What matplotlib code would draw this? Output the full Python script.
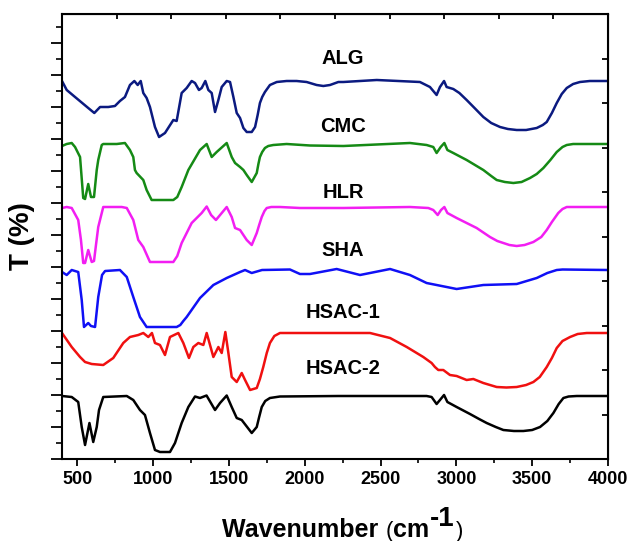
import matplotlib
matplotlib.use('Agg')
import matplotlib.pyplot as plt
import numpy as np

plt.rcParams['font.family'] = ['Liberation Sans', 'DejaVu Sans']

# ---- data (wavenumber, stacked transmittance in axis units) ----
alg_x = [400, 431, 486, 573, 613, 651, 705, 749, 782, 815, 848, 877, 899, 919, 936, 958, 980, 1013, 1040,
         1079, 1134, 1156, 1189, 1222, 1255, 1277, 1303, 1321, 1345, 1365, 1387, 1409, 1431, 1453, 1486,
         1508, 1530, 1552, 1574, 1596, 1618, 1651, 1673, 1690, 1705, 1720, 1738, 1771, 1816, 1881, 1947,
         2013, 2079, 2123, 2167, 2222, 2255, 2475, 2760, 2826, 2870, 2892, 2919, 2936, 2980, 3020, 3068,
         3120, 3178, 3230, 3288, 3340, 3398, 3460, 3530, 3570, 3596, 3630, 3662, 3695, 3728, 3770, 3815,
         3880, 4000]
alg_y = [378, 369, 362, 351, 346, 352, 352, 353, 358, 362, 374, 378, 374, 378, 366, 361, 352, 332, 322,
         326, 339, 338, 366, 371, 378, 376, 369, 371, 378, 369, 366, 347, 359, 372, 378,
         377, 362, 346, 341, 331, 327, 327, 332, 344, 356, 362, 367, 374, 377, 378, 378,
         377, 374, 373, 374, 377, 377, 379, 377, 372, 364, 372, 378, 372, 370, 366, 359,
         351, 342, 336, 332, 330, 329, 329, 331, 334, 337, 346, 356, 365, 371, 375, 377,
         378, 378]

cmc_x = [400, 431, 464, 486, 519, 540, 552, 573, 591, 611, 629, 639, 662, 672, 761, 815, 848, 870, 881,
         892, 936, 958, 991, 1134, 1160, 1189, 1233, 1310, 1354, 1387, 1420, 1486, 1519, 1541, 1574, 1596,
         1618, 1651, 1684, 1695, 1705, 1720, 1738, 1760, 1793, 1881, 2035, 2255, 2694, 2804, 2848, 2870,
         2897, 2921, 2941, 2980, 3068, 3178, 3230, 3266, 3320, 3376, 3430, 3486, 3530, 3574, 3620, 3662,
         3700, 3728, 3770, 4000]
cmc_y = [313, 315, 316, 312, 302, 261, 260, 275, 262, 262, 289, 299, 314, 315, 315, 316, 309, 302, 289,
         286, 279, 269, 259, 259, 262, 272, 289, 309, 315, 302, 307, 316, 302, 296, 292, 289,
         284, 277, 286, 295, 302, 307, 311, 313, 314, 315, 313.5, 313, 316, 314, 312, 306,
         312, 316, 309, 306, 299, 289, 283, 279, 277, 276, 277, 281, 285, 291, 299, 307,
         312, 314, 315, 315]

hlr_x = [400, 431, 464, 507, 525, 540, 552, 573, 596, 611, 624, 639, 672, 794, 827, 870, 903, 936, 980,
         1134, 1160, 1189, 1255, 1321, 1354, 1383, 1415, 1486, 1519, 1541, 1574, 1618, 1651, 1684, 1700,
         1717, 1735, 1750, 1780, 1837, 1969, 2255, 2694, 2815, 2848, 2877, 2899, 2921, 2941, 3002, 3068,
         3134, 3222, 3270, 3310, 3350, 3398, 3450, 3508, 3560, 3596, 3630, 3672, 3700, 3728, 4000]
hlr_y = [251, 252, 251, 239, 219, 196, 196, 209, 197, 198, 214, 232, 252, 252, 251, 239, 219, 212, 197,
         197, 203, 216, 236, 246, 252.5, 244, 239, 252, 242, 231, 229, 219, 214, 226, 234,
         242, 248, 251, 252, 252, 251, 251, 252, 251, 249, 244, 249, 252, 246, 241, 236,
         231, 222, 218, 216, 214, 213, 214, 217, 222, 229, 237, 246, 250, 252, 252]

sha_x = [400, 431, 464, 507, 530, 545, 573, 591, 618, 639, 664, 684, 782, 827, 870, 914, 958, 1156, 1180,
         1200, 1222, 1310, 1398, 1486, 1574, 1607, 1651, 1719, 1903, 1969, 2035, 2211, 2365, 2563, 2694,
         2804, 3002, 3178, 3398, 3530, 3600, 3662, 3700, 4000]
sha_y = [187, 184, 189, 187, 159, 132, 136, 133, 132, 162, 184, 188, 189, 182, 162, 142, 132, 132, 134,
         138, 142, 161, 174, 181, 187, 189, 186, 189, 189.5, 185, 185, 190, 184, 190, 184,
         176, 170, 174, 175, 181, 186, 189, 189.5, 189]

hsac1_x = [400, 464, 519, 552, 596, 672, 738, 804, 848, 903, 936, 969, 993, 1013, 1046, 1079, 1112, 1167,
           1200, 1237, 1266, 1299, 1332, 1354, 1398, 1431, 1453, 1477, 1497, 1519, 1552, 1585, 1607, 1640,
           1684, 1705, 1727, 1750, 1771, 1800, 1837, 1969, 2431, 2563, 2673, 2782, 2837, 2859, 2881, 2914,
           2958, 3002, 3068, 3112, 3178, 3266, 3330, 3398, 3460, 3508, 3550, 3596, 3630, 3662, 3700, 3750,
           3800, 3860, 4000]
hsac1_y = [126, 112, 102, 97, 95, 94, 101, 116, 122, 124, 126, 122, 126, 116, 114, 104, 122, 126,
           116, 101, 112, 116, 114, 126, 102, 112, 106, 127, 106, 82, 77, 86, 79, 69,
           71, 80, 92, 106, 116, 123, 126, 126, 126, 121, 112, 102, 96, 92, 89, 89,
           84, 83, 79, 80, 76, 72, 71.5, 72, 74, 77, 82, 92, 101, 111, 118, 122,
           125, 126, 126]

hsac2_x = [400, 464, 507, 530, 552, 581, 606, 629, 644, 672, 827, 870, 914, 947, 980, 1013, 1046, 1112,
           1145, 1189, 1233, 1277, 1310, 1353, 1409, 1442, 1486, 1519, 1552, 1585, 1651, 1684, 1700, 1717,
           1740, 1771, 1837, 2222, 2804, 2837, 2870, 2892, 2919, 2941, 3002, 3090, 3150, 3200, 3260, 3310,
           3380, 3442, 3500, 3552, 3600, 3640, 3675, 3706, 3740, 3794, 4000]
hsac2_y = [63, 62, 57, 32, 14, 36, 17, 32, 49, 62, 63, 59, 49, 44, 26, 9, 7, 7,
           16, 36, 52, 62.5, 61, 63.5, 49, 56, 63.5, 52, 41, 39, 26, 32, 42, 52,
           58, 61, 62.5, 63, 63, 62, 55, 59, 64, 57, 52, 45, 40, 36, 32, 29,
           28, 28, 29, 32, 38, 46, 55, 61, 62.5, 63, 63]

names = ['ALG', 'CMC', 'HLR', 'SHA', 'HSAC-1', 'HSAC-2']
colors = ['#0b1a80', '#158a15', '#f21ef2', '#1010f5', '#f01010', '#000000']
label_x = 2253
label_y = [400, 332, 267, 209, 146, 90]

xs = [alg_x, cmc_x, hlr_x, sha_x, hsac1_x, hsac2_x]
ys = [alg_y, cmc_y, hlr_y, sha_y, hsac1_y, hsac2_y]

W, H = 629, 541
fig = plt.figure(figsize=(W / 100, H / 100), dpi=100)
ax = fig.add_axes([62 / W, 1 - 459 / H, 546 / W, 445 / H])

for x, y, c in zip(xs, ys, colors):
    ax.plot(x, y, color=c, lw=1.8, solid_joinstyle='round', solid_capstyle='round')

for n, ly in zip(names, label_y):
    ax.text(label_x, ly, n, ha='center', va='center', fontsize=14.5, fontweight='bold')

ax.set_xlim(400, 4000)
ax.set_ylim(0, 445)
ax.set_xticks(np.arange(500, 4001, 500))
ax.set_xticks(np.arange(750, 4000, 500), minor=True)
ax.set_yticks(np.arange(0, 445, 32))
ax.set_yticks(np.arange(16, 445, 32), minor=True)
ax.set_yticklabels([])
for lbl in ax.get_xticklabels():
    lbl.set_fontweight('bold')
ax.tick_params(axis='x', which='major', direction='out', length=5, width=1.3, labelsize=13, pad=4)
ax.tick_params(axis='x', which='minor', direction='out', length=3, width=1.2)
ax.tick_params(axis='y', which='major', direction='out', length=8, width=1.3)
ax.tick_params(axis='y', which='minor', direction='out', length=4.5, width=1.2)
for s in ax.spines.values():
    s.set_linewidth(1.5)

# top & right axes with 10 equal divisions, inward ticks
top = ax.secondary_xaxis('top')
top.set_xticks(np.linspace(400, 4000, 11)[1:-1])
top.set_xticklabels([])
top.tick_params(direction='in', length=3.5, width=1.3)
right = ax.secondary_yaxis('right')
right.set_yticks(np.linspace(0, 445, 11)[1:-1])
right.set_yticklabels([])
right.tick_params(direction='in', length=4.5, width=1.3)

ax.set_ylabel('T (%)', fontsize=20, fontweight='bold', labelpad=8)

# x label with a large superscript
fig.canvas.draw()
r = fig.canvas.get_renderer()
xb = 222 / W
yb = 1 - 537 / H
t1 = fig.text(xb, yb, 'Wavenumber ', fontsize=18, fontweight='bold', va='baseline', ha='left')
e1 = t1.get_window_extent(r)
t2 = fig.text(e1.x1 / W, yb, '(', fontsize=16, va='baseline', ha='left')
e2 = t2.get_window_extent(r)
t3 = fig.text(e2.x1 / W, yb, 'cm', fontsize=18, fontweight='bold', va='baseline', ha='left')
e3 = t3.get_window_extent(r)
t4 = fig.text(e3.x1 / W + 1 / W, yb + 11 / H, '-1', fontsize=20, fontweight='bold', va='baseline', ha='left')
e4 = t4.get_window_extent(r)
t5 = fig.text(e4.x1 / W + 1 / W, yb, ')', fontsize=16, va='baseline', ha='left')

fig.savefig('out.png', dpi=100)
